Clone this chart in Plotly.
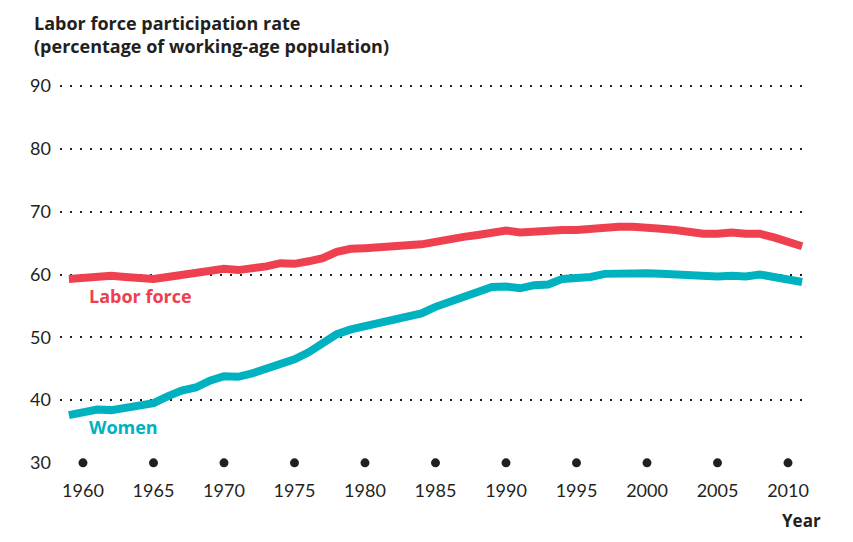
import plotly.graph_objects as go

# years shown on the chart
years = list(range(1959, 2012))

# labor force participation rate, all
labor_force = [59.3, 59.5, 59.7, 59.8, 59.6, 59.4, 59.3, 59.6, 60.0, 60.1,
               60.6, 60.9, 60.7, 60.9, 61.3, 61.8, 61.7, 62.1, 62.6, 63.6,
               64.1, 64.2, 64.3, 64.4, 64.4, 64.8, 65.2, 65.7, 66.0, 66.3,
               66.8, 67.0, 66.7, 66.9, 66.8, 67.1, 67.1, 67.3, 67.6, 67.6,
               67.6, 67.6, 67.3, 67.1, 66.7, 66.5, 66.5, 66.7, 66.5, 66.5,
               65.9, 65.2, 64.5]

# women
women = [37.6, 38.2, 38.5, 38.4, 38.7, 39.0, 39.5, 40.6, 41.5, 42.0,
         43.1, 43.8, 43.7, 44.25, 44.9, 45.7, 46.5, 47.6, 49.0, 50.5,
         51.25, 51.8, 52.4, 52.9, 53.3, 53.8, 54.85, 55.65, 56.45, 57.1,
         58.0, 58.1, 57.8, 58.3, 58.4, 59.3, 59.3, 59.6, 60.1, 60.2,
         60.3, 60.2, 60.1, 60.0, 59.85, 59.6, 59.7, 59.8, 59.7, 60.0,
         59.6, 59.1, 58.8]

tick_years = [1960, 1965, 1970, 1975, 1980, 1985, 1990, 1995, 2000, 2005, 2010]
y_ticks = [30, 40, 50, 60, 70, 80, 90]
grid_vals = [40, 50, 60, 70, 80, 90]

RED = "#EF4050"
TEAL = "#00B2BF"
INK = "#231F20"
FONT = "Lato"
BOLD = "Open Sans"

fig = go.Figure()

fig.add_trace(go.Scatter(x=years, y=labor_force, mode="lines",
                         line=dict(color=RED, width=8), name="Labor force"))
fig.add_trace(go.Scatter(x=years, y=women, mode="lines",
                         line=dict(color=TEAL, width=8), name="Women"))

# black dots on the bottom row, one per labelled year
fig.add_trace(go.Scatter(x=tick_years, y=[30] * len(tick_years), mode="markers",
                         marker=dict(color=INK, size=9),
                         cliponaxis=False, hoverinfo="skip"))

# dummy trace so the grid axis gets drawn
fig.add_trace(go.Scatter(x=[years[0]], y=[grid_vals[0]], yaxis="y2", mode="markers",
                         marker=dict(opacity=0), hoverinfo="skip"))

fig.add_annotation(x=1960.3, y=56.6, text="<b>Labor force</b>", showarrow=False,
                   xanchor="left", font=dict(color=RED, size=18, family=BOLD))
fig.add_annotation(x=1960.3, y=35.7, text="<b>Women</b>", showarrow=False,
                   xanchor="left", font=dict(color=TEAL, size=18, family=BOLD))
fig.add_annotation(x=1.017, xref="paper", y=-0.143, yref="paper", text="<b>Year</b>",
                   showarrow=False, xanchor="right", yanchor="middle",
                   font=dict(color=INK, size=17, family=BOLD))
fig.add_annotation(x=-0.0373, xref="paper", y=1.192, yref="paper",
                   text="<b>Labor force participation rate<br>(percentage of working-age population)</b>",
                   showarrow=False, xanchor="left", yanchor="top", align="left",
                   font=dict(color=INK, size=18, family=BOLD))

# page body has an 8px margin, so the figure is drawn 8px smaller
fig.update_layout(
    width=845, height=534,
    margin=dict(l=52, r=43, t=75, b=76),
    plot_bgcolor="white", paper_bgcolor="white",
    showlegend=False,
    font=dict(family=FONT, color=INK, size=18),
    xaxis=dict(range=[1958.37, 2011.56], tickvals=tick_years, showgrid=False,
               zeroline=False, showline=False, ticks="", ticklabelstandoff=12,
               tickfont=dict(size=18)),
    yaxis=dict(range=[29.5, 90.5], tickvals=y_ticks, showgrid=False, zeroline=False,
               showline=False, ticks="", ticklabelstandoff=8, tickfont=dict(size=18)),
    yaxis2=dict(range=[29.5, 90.5], overlaying="y", tickvals=grid_vals, showgrid=True,
                gridcolor=INK, gridwidth=2, griddash="2px,8px",
                showticklabels=False, zeroline=False, showline=False),
)

fig.write_html("out.html")
